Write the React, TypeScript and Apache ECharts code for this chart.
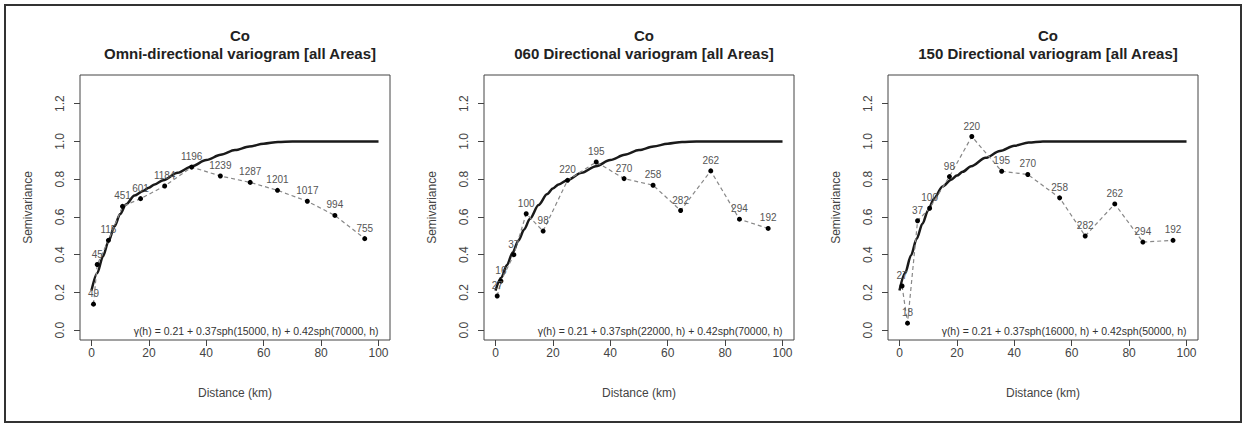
import React, { useEffect, useRef } from 'react';
import * as echarts from 'echarts';

const FONT = '"Liberation Sans", Arial, Helvetica, sans-serif';

// ---- Data ----
const mainTitle = 'Co';
const subTitles = [
  'Omni-directional variogram [all Areas]',
  '060 Directional variogram [all Areas]',
  '150 Directional variogram [all Areas]',
];
const formulas = [
  'γ(h) = 0.21 + 0.37sph(15000, h) + 0.42sph(70000, h)',
  'γ(h) = 0.21 + 0.37sph(22000, h) + 0.42sph(70000, h)',
  'γ(h) = 0.21 + 0.37sph(16000, h) + 0.42sph(50000, h)',
];

const xTicks = [0, 20, 40, 60, 80, 100];
const yTicks = [0, 0.2, 0.4, 0.6, 0.8, 1.0, 1.2];

// Omni-directional experimental variogram
const omniDist = [0.7, 2.0, 5.9, 10.8, 17.1, 25.5, 34.9, 44.9, 55.3, 64.8, 75.2, 84.8, 95.2];
const omniGamma = [0.138, 0.348, 0.476, 0.656, 0.697, 0.764, 0.864, 0.817, 0.783, 0.741, 0.683, 0.608, 0.485];
const omniPairs = ['49', '45', '115', '451', '601', '1184', '1196', '1239', '1287', '1201', '1017', '994', '755'];

// 060 directional experimental variogram
const d060Dist = [0.6, 1.9, 6.4, 10.7, 16.6, 25.1, 35.1, 44.8, 54.9, 64.5, 75.0, 85.0, 95.0];
const d060Gamma = [0.181, 0.26, 0.4, 0.617, 0.525, 0.794, 0.891, 0.803, 0.768, 0.634, 0.844, 0.588, 0.539];
const d060Pairs = ['27', '16', '37', '100', '98', '220', '195', '270', '258', '282', '262', '294', '192'];

// 150 directional experimental variogram
const d150Dist = [0.9, 2.8, 6.3, 10.5, 17.4, 25.2, 35.6, 44.7, 55.8, 64.7, 75.0, 84.8, 95.3];
const d150Gamma = [0.234, 0.037, 0.58, 0.646, 0.814, 1.026, 0.842, 0.825, 0.701, 0.499, 0.669, 0.467, 0.476];
const d150Pairs = ['27', '18', '37', '100', '98', '220', '195', '270', '258', '282', '262', '294', '192'];

// Fitted model curves
const modelDist = [0, 2, 4, 6, 8, 10, 12, 15, 18, 20, 22, 25, 30, 35, 40, 45, 50, 55, 60, 65, 70, 100];
const omniModel = [0.21, 0.302, 0.391, 0.474, 0.55, 0.615, 0.666, 0.713, 0.738, 0.755, 0.772, 0.795, 0.834, 0.869, 0.901, 0.929, 0.954, 0.973, 0.988, 0.997, 1.0, 1.0];
const d060Model = [0.21, 0.278, 0.346, 0.412, 0.475, 0.534, 0.59, 0.663, 0.721, 0.751, 0.772, 0.795, 0.834, 0.869, 0.901, 0.929, 0.954, 0.973, 0.988, 0.997, 1.0, 1.0];
const d150Model = [0.21, 0.304, 0.396, 0.484, 0.564, 0.636, 0.697, 0.761, 0.797, 0.819, 0.839, 0.869, 0.913, 0.949, 0.977, 0.994, 1.0, 1.0, 1.0, 1.0, 1.0, 1.0];

const expDist = [omniDist, d060Dist, d150Dist];
const expGamma = [omniGamma, d060Gamma, d150Gamma];
const expPairs = [omniPairs, d060Pairs, d150Pairs];
const models = [omniModel, d060Model, d150Model];

// ---- Layout ----
const gridLefts = [80, 484, 888];
const GRID_TOP = 75;
const GRID_W = 310;
const GRID_H = 265;
const X_MIN = -4;
const X_MAX = 104;
const Y_MIN = -0.052;
const Y_MAX = 1.352;

export default function App() {
  const ref = useRef<HTMLDivElement>(null);

  useEffect(() => {
    document.body.style.margin = '0';
    const chart = echarts.init(ref.current!, null, { renderer: 'svg' });

    const grids: any[] = [];
    const xAxes: any[] = [];
    const yAxes: any[] = [];
    const series: any[] = [];
    const titles: any[] = [];
    const graphics: any[] = [];

    for (let i = 0; i < 3; i++) {
      const left = gridLefts[i];
      grids.push({
        left,
        top: GRID_TOP,
        width: GRID_W,
        height: GRID_H,
        show: true,
        borderColor: '#444',
        borderWidth: 1,
        backgroundColor: 'transparent',
        containLabel: false,
      });
      xAxes.push({
        type: 'value',
        gridIndex: i,
        position: 'bottom',
        min: X_MIN,
        max: X_MAX,
        name: 'Distance (km)',
        nameLocation: 'middle',
        nameGap: 47,
        nameTextStyle: { fontFamily: FONT, fontSize: 12, color: '#444' },
        axisLine: { show: false, onZero: false },
        axisTick: {
          show: true,
          inside: false,
          length: 6,
          customValues: xTicks,
          lineStyle: { color: '#444', width: 1 },
        },
        axisLabel: {
          show: true,
          customValues: xTicks,
          margin: 7,
          fontFamily: FONT,
          fontSize: 12,
          color: '#444',
        },
        splitLine: { show: false },
      });
      yAxes.push({
        type: 'value',
        gridIndex: i,
        position: 'left',
        min: Y_MIN,
        max: Y_MAX,
        name: 'Semivariance',
        nameLocation: 'middle',
        nameGap: 46,
        nameRotate: 90,
        nameTextStyle: { fontFamily: FONT, fontSize: 12, color: '#444' },
        axisLine: { show: false, onZero: false },
        axisTick: {
          show: true,
          inside: false,
          length: 6,
          customValues: yTicks,
          lineStyle: { color: '#444', width: 1 },
        },
        axisLabel: {
          show: true,
          customValues: yTicks,
          rotate: 90,
          margin: 14,
          fontFamily: FONT,
          fontSize: 12,
          color: '#444',
          formatter: (v: number) => v.toFixed(1),
        },
        splitLine: { show: false },
      });

      // fitted model
      series.push({
        type: 'line',
        xAxisIndex: i,
        yAxisIndex: i,
        data: modelDist.map((d, k) => [d, models[i][k]]),
        showSymbol: false,
        smooth: 0.3,
        smoothMonotone: 'x',
        lineStyle: { color: '#1a1a1a', width: 2.5 },
        z: 3,
        silent: true,
      });

      // experimental variogram
      series.push({
        type: 'line',
        xAxisIndex: i,
        yAxisIndex: i,
        data: expDist[i].map((d, k) => ({ value: [d, expGamma[i][k]], name: expPairs[i][k] })),
        showSymbol: true,
        symbol: 'circle',
        symbolSize: 5,
        itemStyle: { color: '#000' },
        lineStyle: { color: '#888', width: 1.2, type: [4, 3] },
        label: {
          show: true,
          position: 'top',
          distance: 3,
          formatter: '{b}',
          fontFamily: FONT,
          fontSize: 10,
          color: '#555',
        },
        z: 4,
        silent: true,
      });

      titles.push({
        text: mainTitle + '\n' + subTitles[i],
        left: left + GRID_W / 2,
        top: 21,
        textAlign: 'center',
        textStyle: {
          fontFamily: FONT,
          fontSize: 15,
          fontWeight: 'bold',
          color: '#222',
          lineHeight: 18,
        },
      });

      graphics.push({
        type: 'text',
        x: left + (GRID_W * (100 - X_MIN)) / (X_MAX - X_MIN),
        y: 331,
        style: {
          text: formulas[i],
          textAlign: 'right',
          textVerticalAlign: 'middle',
          font: '10.5px ' + FONT,
          fill: '#333',
        },
        silent: true,
      });
    }

    graphics.push({
      type: 'rect',
      shape: { x: 5, y: 5, width: 1236, height: 417 },
      style: { fill: 'none', stroke: '#333', lineWidth: 2 },
      silent: true,
      z: 100,
    });

    chart.setOption({
      animation: false,
      backgroundColor: '#fff',
      title: titles,
      grid: grids,
      xAxis: xAxes,
      yAxis: yAxes,
      series,
      graphic: graphics,
    });

    return () => chart.dispose();
  }, []);

  return <div ref={ref} style={{ width: 1246, height: 424 }} />;
}
